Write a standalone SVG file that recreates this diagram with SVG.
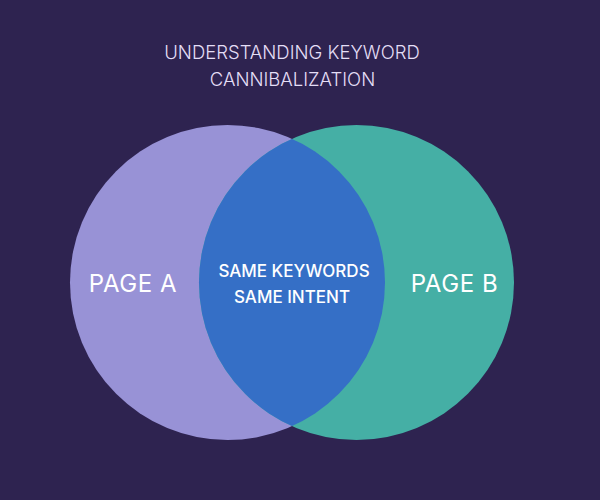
<svg xmlns="http://www.w3.org/2000/svg" width="600" height="500" viewBox="0 0 600 500">
<style>
.t{font-family:Inter,"Noto Sans","Liberation Sans",sans-serif;text-anchor:middle}
.title{font-size:18.5px;font-weight:300;fill:#E4DEF6}
.big{font-size:24px;font-weight:400;fill:#FFFFFF;letter-spacing:0.6px}
.mid{font-size:17px;font-weight:500;fill:#FFFFFF}
</style>
<defs>
<clipPath id="clipA"><circle cx="227.5" cy="282.5" r="157.5"/></clipPath>
</defs>
<rect width="600" height="500" fill="#2E2350"/>
<g id="title">
<text class="t title" x="292" y="59">UNDERSTANDING KEYWORD</text>
<text class="t title" x="292.5" y="86">CANNIBALIZATION</text>
</g>
<g id="pageA">
<circle cx="227.5" cy="282.5" r="157.5" fill="#9892D6"/>
<text class="t big" x="133" y="292">PAGE A</text>
</g>
<g id="pageB">
<circle cx="356.5" cy="282.5" r="157.5" fill="#45AFA5"/>
<text class="t big" x="454.5" y="292">PAGE B</text>
</g>
<g id="overlap">
<circle cx="356.5" cy="282.5" r="157.5" fill="#356FC6" clip-path="url(#clipA)"/>
<text class="t mid" x="294" y="277">SAME KEYWORDS</text>
<text class="t mid" x="292" y="303">SAME INTENT</text>
</g>
<g id="connectors"/>
</svg>
